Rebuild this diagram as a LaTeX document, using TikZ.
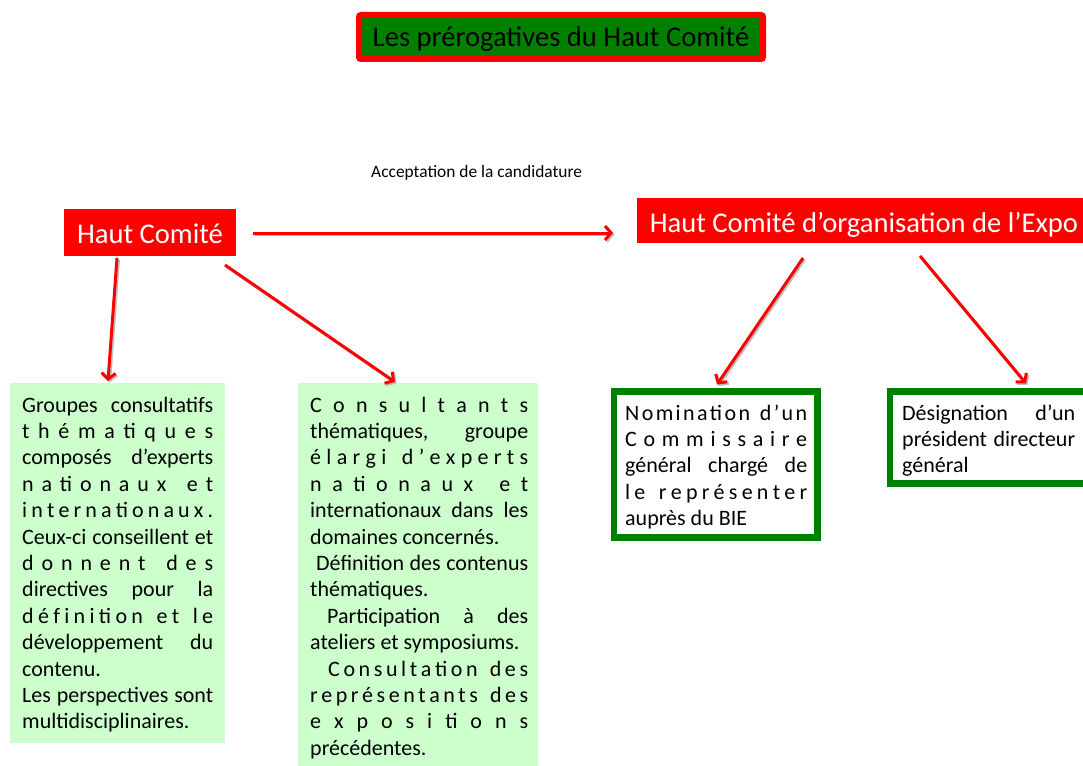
\documentclass[tikz,border=0pt]{standalone}
\usepackage{fontspec}
\setmainfont{Carlito}
\usetikzlibrary{arrows.meta}
\definecolor{pred}{HTML}{FF0000}
\definecolor{pgreen}{HTML}{008000}
\definecolor{plight}{HTML}{CCFFCC}

\ExplSyntaxOn
\dim_new:N \l_my_sp_dim
\cs_new_protected:Npn \my_spread_word:n #1
  { \tl_map_inline:nn {#1} { ##1 \hfil } \hskip \l_my_sp_dim \relax \hfil }
\NewDocumentCommand \Spread { m m }
  {
    \dim_set:Nn \l_my_sp_dim { 0.226em }
    \seq_set_split:Nnn \l_tmpa_seq { ~ } { #2 }
    \makebox[#1][s]{ \seq_map_function:NN \l_tmpa_seq \my_spread_word:n \hskip -\l_my_sp_dim \relax \hfilneg \hfilneg }
  }
\ExplSyntaxOff

\newcommand\Ln[1]{\hbox{#1}}
\newcommand\Lines[1]{\vtop{\baselineskip=26.4pt\lineskiplimit=-50pt\lineskip=0pt #1}}
\newcommand\J[2]{\makebox[#1][s]{#2}}

\tikzset{
  redbox/.style={fill=pred, text=white, inner sep=0pt, outer sep=0pt, text depth=0pt, font=\fontsize{28.6}{32}\selectfont},
  greenfill/.style={fill=plight, inner sep=0pt, outer sep=0pt, anchor=north west},
  greenframe/.style={draw=pgreen, line width=6.5pt, fill=white, inner sep=0pt, outer sep=0pt, anchor=north west},
  bodytext/.style={inner sep=0pt, anchor=base west, font=\fontsize{22}{26.4}\selectfont},
  arr/.style={draw=pred, line width=3pt, -{Straight Barb[length=6pt,width=14pt]},
    preaction={draw=black!25, line width=3pt, transform canvas={shift={(1.5pt,-1.5pt)}}}}
}

\begin{document}
\begin{tikzpicture}[x=1pt,y=-1pt]
\useasboundingbox (0,0) rectangle (1083,765);

% title
\node[draw=pred, fill=pgreen, line width=6pt, rounded corners=2pt, minimum width=404pt, minimum height=44pt,
      inner sep=0pt, text height=20pt, text depth=0pt, font=\fontsize{28.6}{32}\selectfont] (title) at (561,37)
      {Les prérogatives du Haut Comité};

% red boxes
\node[redbox, minimum width=172pt, minimum height=47pt, text height=21pt] (hc) at (150,232.5) {Haut Comité};
\node[redbox, minimum width=454pt, minimum height=45pt, text height=23pt] (hco) at (864,220.5) {Haut Comité d’organisation de l’Expo};

% label
\node[inner sep=0pt, anchor=base west, font=\fontsize{17.4}{20}\selectfont] (acc) at (371,177) {Acceptation de la candidature};

% boxes
\node[greenfill, minimum width=215pt, minimum height=360pt] (g1) at (10,383) {};
\node[greenfill, minimum width=240pt, minimum height=385pt] (g2) at (298,383) {};
\node[greenframe, minimum width=203.5pt, minimum height=146pt] (b1) at (614,391.5) {};
\node[greenframe, minimum width=200pt, minimum height=92pt] (b2) at (890,391.5) {};

% texts
\node[bodytext] (t1) at (22,412) {\Lines{%
\Ln{\J{191pt}{Groupes consultatifs}}
\Ln{\Spread{191pt}{théma{ti}ques}}
\Ln{\J{191pt}{composés d’experts}}
\Ln{\Spread{191pt}{na{ti}onaux et}}
\Ln{\Spread{191pt}{interna{ti}onaux.}}
\Ln{\J{191pt}{Ceux-ci conseillent et}}
\Ln{\Spread{191pt}{donnent des}}
\Ln{\J{191pt}{directives pour la}}
\Ln{\Spread{191pt}{défini{ti}on et le}}
\Ln{\J{191pt}{développement du}}
\Ln{contenu.}
\Ln{\J{191pt}{Les perspectives sont}}
\Ln{multidisciplinaires.}}};

\node[bodytext] (t2) at (310,412) {\Lines{%
\Ln{\Spread{218pt}{Consultants}}
\Ln{\J{218pt}{thématiques, groupe}}
\Ln{\Spread{218pt}{élargi d’experts}}
\Ln{\Spread{218pt}{na{ti}onaux et}}
\Ln{\J{218pt}{internationaux dans les}}
\Ln{domaines concernés.}
\Ln{\J{218pt}{\hskip6pt Définition des contenus}}
\Ln{thématiques.}
\Ln{\J{218pt}{\hskip17pt Participation à des}}
\Ln{ateliers et symposiums.}
\Ln{\hskip18pt\Spread{200pt}{Consulta{ti}on des}}
\Ln{\Spread{218pt}{représentants des}}
\Ln{\Spread{218pt}{exposi{ti}ons}}
\Ln{précédentes.}}};

\node[bodytext] (t3) at (625,420) {\Lines{%
\Ln{\Spread{182pt}{Nomina{ti}on d’un}}
\Ln{\Spread{182pt}{Commissaire}}
\Ln{\J{182pt}{général chargé de}}
\Ln{\Spread{182pt}{le représenter}}
\Ln{auprès du BIE}}};

\node[bodytext] (t4) at (902,420) {\Lines{%
\Ln{\J{173pt}{Désignation d’un}}
\Ln{\J{173pt}{président directeur}}
\Ln{général}}};

% arrows
\draw[arr] ([xshift=17pt,yshift=-0.5pt]hc.east) -- ([xshift=-24pt,yshift=-12.5pt]hco.west);
\draw[arr] ([xshift=53pt,yshift=-2pt]hc.south west) -- ([xshift=98pt,yshift=2pt]g1.north west);
\draw[arr] ([xshift=-11pt,yshift=-9pt]hc.south east) -- ([xshift=97pt,yshift=1pt]g2.north west);
\draw[arr] ([xshift=166pt,yshift=-15pt]hco.south west) -- ([xshift=103pt,yshift=7pt]b1.north west);
\draw[arr] ([xshift=283pt,yshift=-13pt]hco.south west) -- ([xshift=136pt,yshift=8pt]b2.north west);
\end{tikzpicture}
\end{document}
